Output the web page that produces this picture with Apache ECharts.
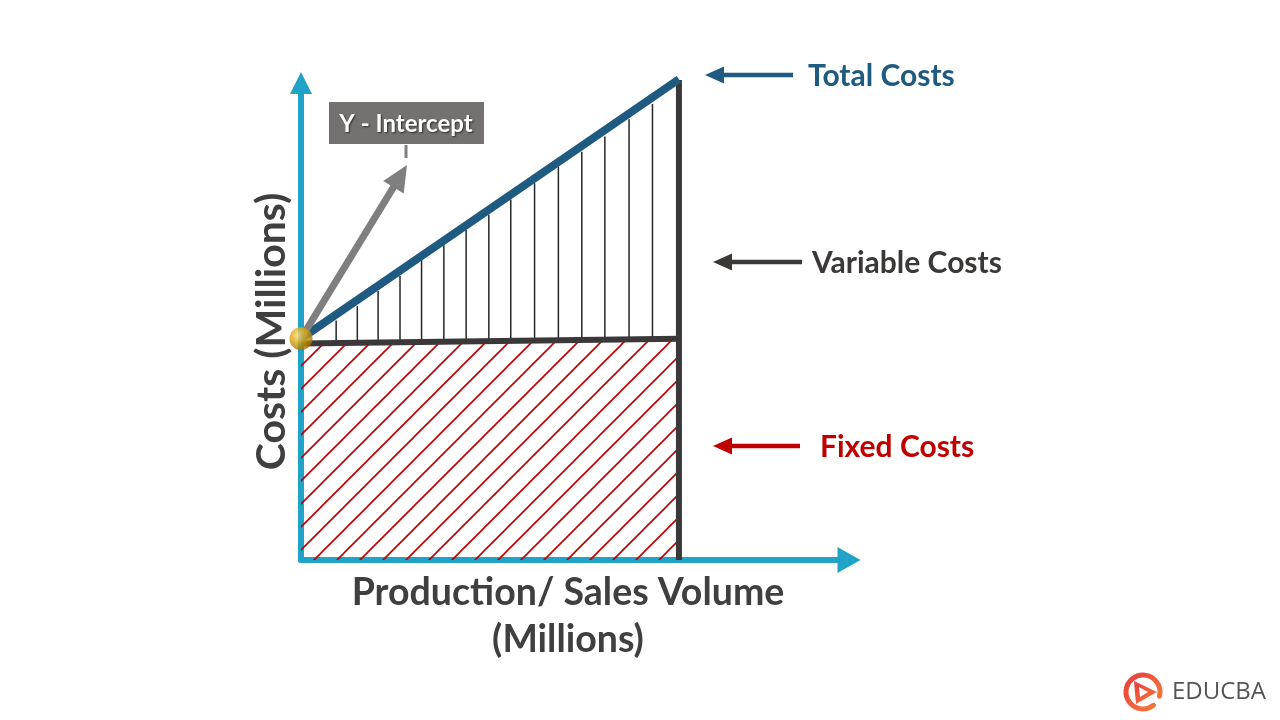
<!DOCTYPE html>
<html>
<head>
<meta charset="utf-8">
<script src="https://cdn.jsdelivr.net/npm/echarts@6/dist/echarts.min.js"></script>
<style>
html,body{margin:0;padding:0;background:#fff;}
#chart{width:1280px;height:720px;}
</style>
</head>
<body>
<div id="chart"></div>
<script>
// ---- data (conceptual cost diagram) ----
const volume = [0, 10];                 // production / sales volume (millions)
const fixedCosts = [11.35, 11.6];       // fixed cost line
const totalCosts = [11.6, 25.2];        // total cost line
const boundaryVolume = [10, 10];        // right edge of the diagram
const boundaryCosts = [0, 25.2];
const intercept = [0, 11.6];            // y-intercept point
const varLineX = [0.93, 1.49, 2.04, 2.62, 3.19, 3.78, 4.37, 4.97, 5.55, 6.18, 6.81, 7.43, 8.04, 8.68, 9.3];
const varLineTop = [12.55, 13.3, 14.1, 14.9, 15.7, 16.5, 17.3, 18.1, 18.9, 19.75, 20.6, 21.4, 22.2, 23.1, 23.9];
const varLineBase = 11.45;
const xMax = 14.5, yMax = 25;

const FONT = 'Lato, "Open Sans", sans-serif';

function hatchPattern(){
  const s = 23;
  const c = document.createElement('canvas');
  c.width = s; c.height = s;
  const g = c.getContext('2d');
  g.strokeStyle = '#c00000';
  g.lineWidth = 1.6;
  g.beginPath();
  g.moveTo(-2, s + 2); g.lineTo(s + 2, -2);
  g.moveTo(-2, 2); g.lineTo(2, -2);
  g.moveTo(s - 2, s + 2); g.lineTo(s + 2, s - 2);
  g.stroke();
  return c;
}

function arrow(x1, y1, x2, y2, color, w, headLen, headW, z){
  const dx = x2 - x1, dy = y2 - y1, L = Math.hypot(dx, dy);
  const ux = dx / L, uy = dy / L;
  const bx = x2 - ux * headLen, by = y2 - uy * headLen;
  const px = -uy, py = ux;
  return [
    {type:'line', z:z, shape:{x1:x1, y1:y1, x2:bx + ux, y2:by + uy}, style:{stroke:color, lineWidth:w}},
    {type:'polygon', z:z, shape:{points:[[x2, y2], [bx + px * headW / 2, by + py * headW / 2], [bx - px * headW / 2, by - py * headW / 2]]}, style:{fill:color}}
  ];
}

const chart = echarts.init(document.getElementById('chart'));
const axisColor = '#20a3c6';

chart.setOption({
  backgroundColor: '#ffffff',
  animation: false,
  grid: {left: 301, width: 548, top: 83, height: 477, containLabel: false},
  xAxis: {
    type: 'value', min: 0, max: xMax,
    axisLine: {show: true, onZero: false, symbol: ['none', 'triangle'], symbolSize: [26, 23],
      lineStyle: {color: axisColor, width: 6}},
    axisTick: {show: false}, axisLabel: {show: false}, splitLine: {show: false},
    name: 'Production/ Sales Volume\n(Millions)',
    nameLocation: 'middle', nameGap: 9,
    nameTextStyle: {fontFamily: FONT, fontWeight: 'bold', fontSize: 37.5, color: '#3f3f3f', lineHeight: 47, align: 'center',
      padding: [0, 14, 0, 0]}
  },
  yAxis: {
    type: 'value', min: 0, max: yMax,
    axisLine: {show: true, onZero: false, symbol: ['none', 'triangle'], symbolSize: [22, 22],
      lineStyle: {color: axisColor, width: 6}},
    axisTick: {show: false}, axisLabel: {show: false}, splitLine: {show: false},
    name: 'Costs (Millions)',
    nameLocation: 'middle', nameGap: 9,
    nameTextStyle: {fontFamily: FONT, fontWeight: 'bold', fontSize: 41, color: '#3f3f3f', padding: [0, 20, 0, 0]}
  },
  series: [
    {
      name: 'Fixed Costs', type: 'line', z: 3, symbol: 'none', silent: true,
      data: volume.map((v, i) => [v, fixedCosts[i]]),
      lineStyle: {color: '#3a3838', width: 6},
      areaStyle: {origin: 'start', opacity: 1, color: {image: hatchPattern(), repeat: 'repeat'}}
    },
    {
      name: 'Variable Costs', type: 'custom', z: 2, silent: true,
      data: varLineX.map((x, i) => [x, varLineBase, varLineTop[i]]),
      encode: {x: 0, y: [1, 2]},
      renderItem: function(params, api){
        const p1 = api.coord([api.value(0), api.value(1)]);
        const p2 = api.coord([api.value(0), api.value(2)]);
        return {type: 'line', shape: {x1: p1[0], y1: p1[1], x2: p2[0], y2: p2[1]},
          style: {stroke: '#262626', lineWidth: 1.5}};
      }
    },
    {
      name: 'Boundary', type: 'line', z: 3, symbol: 'none', silent: true,
      data: boundaryVolume.map((v, i) => [v, boundaryCosts[i]]),
      lineStyle: {color: '#3a3838', width: 6}
    },
    {
      name: 'Total Costs', type: 'line', z: 4, symbol: 'none', silent: true, clip: false,
      data: volume.map((v, i) => [v, totalCosts[i]]),
      lineStyle: {color: '#1f5a80', width: 8, cap: 'butt'}
    },
    {
      name: 'Y - Intercept', type: 'scatter', z: 20, silent: true, clip: false,
      data: [intercept], symbolSize: 23,
      itemStyle: {color: {type: 'radial', x: 0.4, y: 0.35, r: 0.75,
        colorStops: [{offset: 0, color: '#ffe27a'}, {offset: 0.45, color: '#dca611'}, {offset: 1, color: '#8c6200'}]}}
    }
  ]
});

// ---- annotations ----
const ip = chart.convertToPixel({gridIndex: 0}, intercept);
const gfx = [];
// Y-intercept pointer
arrow(ip[0] + 3, ip[1] - 5, 407, 165, '#7f7f7f', 7, 26, 24, 8).forEach(e => gfx.push(e));
gfx.push({type: 'line', z: 8, shape: {x1: 406, y1: 145, x2: 406, y2: 158}, style: {stroke: '#7f7f7f', lineWidth: 3}});
gfx.push({type: 'rect', z: 8, shape: {x: 329, y: 102, width: 155, height: 42}, style: {fill: '#767171'}});
gfx.push({type: 'text', z: 9, x: 406, y: 124, style: {text: 'Y - Intercept', fill: '#ffffff', font: 'bold 24px ' + FONT,
  textAlign: 'center', textVerticalAlign: 'middle', textShadowColor: 'rgba(0,0,0,0.6)', textShadowBlur: 2, textShadowOffsetX: 1, textShadowOffsetY: 1}});
// right-hand labels
const labels = [
  {text: 'Total Costs', color: '#1f5a80', y: 75, x1: 793, x2: 705, tx: 808},
  {text: 'Variable Costs', color: '#3b3838', y: 262, x1: 802, x2: 713, tx: 812},
  {text: 'Fixed Costs', color: '#c00000', y: 446, x1: 800, x2: 713, tx: 820}
];
labels.forEach(l => {
  arrow(l.x1, l.y, l.x2, l.y, l.color, 4.5, 19, 17, 8).forEach(e => gfx.push(e));
  gfx.push({type: 'text', z: 9, x: l.tx, y: l.y + 1, style: {text: l.text, fill: l.color, font: 'bold 30px ' + FONT,
    textAlign: 'left', textVerticalAlign: 'middle'}});
});
// EDUCBA logo
const logoGrad = {type: 'linear', x: 0, y: 0, x2: 1, y2: 1, colorStops: [{offset: 0, color: '#e8363f'}, {offset: 1, color: '#f7843a'}]};
gfx.push({type: 'arc', z: 8, shape: {cx: 1143, cy: 692, r: 17, startAngle: 0.9, endAngle: 0.25 + Math.PI * 2, clockwise: true},
  style: {stroke: logoGrad, lineWidth: 5, fill: null, lineCap: 'round'}});
gfx.push({type: 'polygon', z: 8, shape: {points: [[1134, 681], [1157, 692], [1136, 704]]},
  style: {fill: logoGrad}});
gfx.push({type: 'polygon', z: 9, shape: {points: [[1139, 687], [1148, 692], [1140, 697]]}, style: {fill: '#ffffff'}});
gfx.push({type: 'text', z: 9, x: 1172, y: 692, style: {text: 'EDUCBA', fill: '#555555', font: '24px "Open Sans", sans-serif',
  textAlign: 'left', textVerticalAlign: 'middle'}});

chart.setOption({graphic: {elements: gfx}});
</script>
</body>
</html>
